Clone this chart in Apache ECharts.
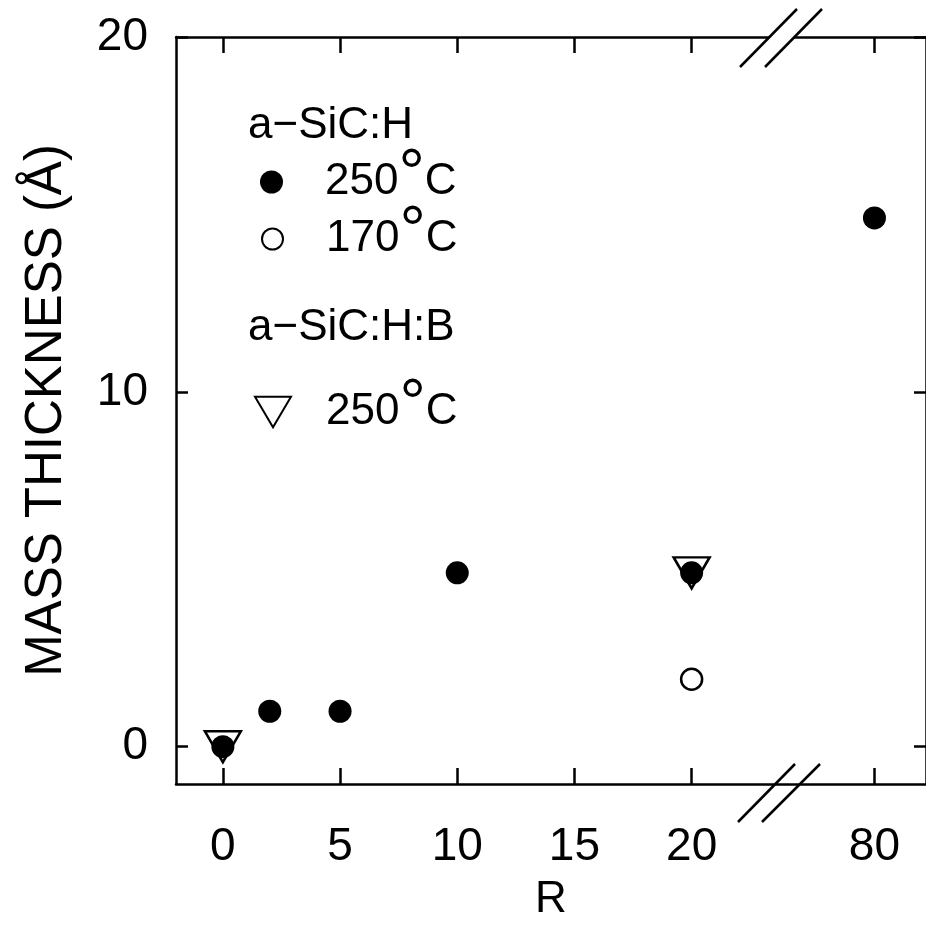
<!DOCTYPE html>
<html>
<head>
<meta charset="utf-8">
<script src="https://cdn.jsdelivr.net/npm/echarts@6/dist/echarts.min.js"></script>
<style>html,body{margin:0;padding:0;background:#fff;}#c{width:926px;height:927px;}</style>
</head>
<body>
<div id="c"></div>
<script>
// ---- data ----
const rFilled250 = [0, 2, 5, 10, 20, 80];
const thickFilled250 = [0, 1, 1, 4.9, 4.9, 14.9];
const rOpen170 = [20];
const thickOpen170 = [1.9];
const rBoron250 = [0, 20];
const thickBoron250 = [0, 4.9];
const xTickValues = [0, 5, 10, 15, 20, 80];
const yTickValues = [0, 10, 20];
const legendHeads = ['a\u2212SiC:H', 'a\u2212SiC:H:B'];

// broken x axis: 0..20 linear, then 80 placed after the break
function brk(r) { return r <= 20 ? r : 27.8 + (r - 80) * 0.05; }
function unbrk(p) { return p <= 20 ? p : Math.round(80 + (p - 27.8) / 0.05); }
const xTickPos = xTickValues.map(brk);
const pts = (xs, ys) => xs.map((x, i) => [brk(x), ys[i]]);

const FONT = 'Liberation Sans, Arial, Helvetica, sans-serif';
const BLACK = '#000';
const LW = 2.5;

const chart = echarts.init(document.getElementById('c'), null, {renderer: 'canvas'});
const degRich = {deg: {fontSize: 66, fontFamily: FONT, color: BLACK, padding: [0, 0, 10, 0]},
                 t: {fontSize: 44, fontFamily: FONT, color: BLACK}};
function degFmt(name) {
  const m = name.match(/(\d+)°C/);
  return '{t|' + m[1] + '}{deg|°}{t|C}';
}
function mkLegend(name, icon, size, left, top, pad) {
  return {
    data: [{name: name, icon: icon}],
    left: left, top: top, padding: 0, orient: 'vertical',
    itemWidth: size[0], itemHeight: size[1],
    selectedMode: false,
    formatter: degFmt,
    textStyle: {fontSize: 44, fontFamily: FONT, color: BLACK, padding: [0, 0, 0, pad], rich: degRich}
  };
}
const option = {
  backgroundColor: '#fff',
  animation: false,
  grid: {left: 176, top: 37, right: -5, bottom: 136, containLabel: false},
  legend: [
    mkLegend('a-SiC:H 250°C', 'circle', [23, 23], 260, 144, 37),
    mkLegend('a-SiC:H 170°C', 'circle', [21, 21], 261, 201, 38),
    mkLegend('a-SiC:H:B 250°C', 'path://M0,0L40,0L20,34Z', [36, 31], 254, 374, 30)
  ],
  xAxis: [{
    type: 'value', position: 'bottom', min: -2, max: 30,
    splitLine: {show: false},
    axisLine: {show: true, onZero: false, lineStyle: {color: BLACK, width: LW}},
    axisTick: {show: true, inside: true, length: 16, customValues: xTickPos, lineStyle: {color: BLACK, width: LW}},
    axisLabel: {show: true, customValues: xTickPos, formatter: v => String(unbrk(v)), fontSize: 46, fontFamily: FONT, color: BLACK, margin: 40},
    name: 'R', nameLocation: 'middle', nameGap: 94,
    nameTextStyle: {fontSize: 44, fontFamily: FONT, color: BLACK}
  }, {
    type: 'value', position: 'top', min: -2, max: 30,
    splitLine: {show: false},
    axisLine: {show: true, onZero: false, lineStyle: {color: BLACK, width: LW}},
    axisTick: {show: true, inside: true, length: 16, customValues: xTickPos, lineStyle: {color: BLACK, width: LW}},
    axisLabel: {show: false}
  }],
  yAxis: [{
    type: 'value', position: 'left', min: -1.05, max: 20,
    splitLine: {show: false},
    axisLine: {show: true, onZero: false, lineStyle: {color: BLACK, width: LW}},
    axisTick: {show: true, inside: true, length: 12, customValues: yTickValues, lineStyle: {color: BLACK, width: LW}},
    axisLabel: {show: true, customValues: yTickValues, fontSize: 46, fontFamily: FONT, color: BLACK, margin: 28},
    name: 'MASS THICKNESS (Å)', nameLocation: 'middle', nameGap: 104, nameRotate: 90,
    nameTextStyle: {fontSize: 51, fontFamily: FONT, color: BLACK}
  }, {
    type: 'value', position: 'right', min: -1.05, max: 20,
    splitLine: {show: false},
    axisLine: {show: true, onZero: false, lineStyle: {color: BLACK, width: LW}},
    axisTick: {show: true, inside: true, length: 12, customValues: yTickValues, lineStyle: {color: BLACK, width: LW}},
    axisLabel: {show: false}
  }],
  series: [
    {name: 'a-SiC:H 250°C', type: 'scatter', xAxisIndex: 0, yAxisIndex: 0,
     data: pts(rFilled250, thickFilled250), symbol: 'circle', symbolSize: 23,
     itemStyle: {color: BLACK, opacity: 1}, z: 2},
    {name: 'a-SiC:H 170°C', type: 'scatter', xAxisIndex: 0, yAxisIndex: 0,
     data: pts(rOpen170, thickOpen170), symbol: 'circle', symbolSize: 21,
     itemStyle: {color: '#fff', borderColor: BLACK, borderWidth: LW, opacity: 1}, z: 3},
    {name: 'a-SiC:H:B 250°C', type: 'scatter', xAxisIndex: 0, yAxisIndex: 0,
     data: pts(rBoron250, thickBoron250), symbol: 'path://M0,0L40,0L20,34Z', symbolSize: [36, 31],
     itemStyle: {color: 'rgba(255,255,255,0)', borderColor: BLACK, borderWidth: LW, opacity: 1}, z: 4}
  ],
  graphic: [
    {type: 'text', left: 248, top: 104, z: 50, style: {text: legendHeads[0], font: '44px ' + FONT, fill: BLACK}},
    {type: 'text', left: 248, top: 306, z: 50, style: {text: legendHeads[1], font: '44px ' + FONT, fill: BLACK}},
    // axis break marks
    {type: 'rect', z: 100, shape: {x: 769, y: 32, width: 25, height: 10}, style: {fill: '#fff'}},
    {type: 'rect', z: 100, shape: {x: 769, y: 786, width: 25, height: 10}, style: {fill: '#fff'}},
    {type: 'line', z: 101, shape: {x1: 740, y1: 67, x2: 797, y2: 9}, style: {stroke: BLACK, lineWidth: LW}},
    {type: 'line', z: 101, shape: {x1: 765, y1: 67, x2: 822, y2: 9}, style: {stroke: BLACK, lineWidth: LW}},
    {type: 'line', z: 101, shape: {x1: 738, y1: 822, x2: 795, y2: 764}, style: {stroke: BLACK, lineWidth: LW}},
    {type: 'line', z: 101, shape: {x1: 762, y1: 822, x2: 820, y2: 764}, style: {stroke: BLACK, lineWidth: LW}}
  ]
};
chart.setOption(option);
</script>
</body>
</html>
